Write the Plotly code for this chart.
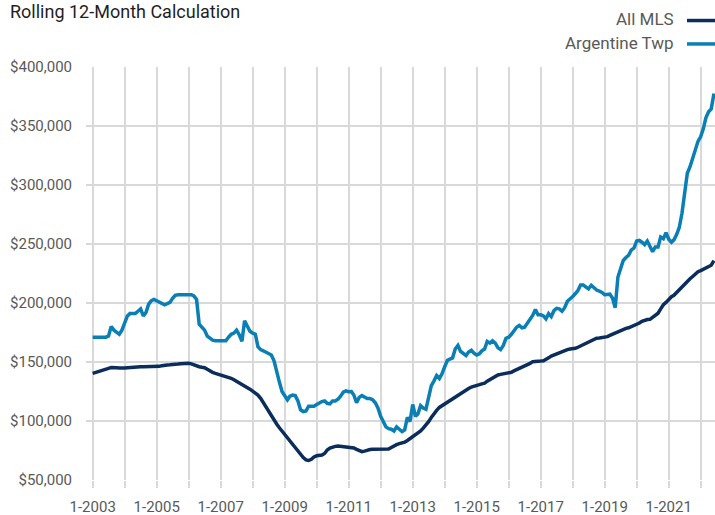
import pandas as pd
import plotly.graph_objects as go

# Monthly values, Jan 2003 .. Jun 2022
argentine_by_year = {
    2003: [171000, 171000, 171000, 171000, 171000, 171000, 172000, 180000, 177000, 175000, 173500, 177000],
    2004: [184000, 189000, 191000, 191000, 191000, 193000, 195000, 189000, 192000, 199000, 202000, 203000],
    2005: [202000, 201000, 199500, 198500, 199500, 200500, 204000, 206500, 207000, 207000, 207000, 207000],
    2006: [207000, 207000, 206000, 203000, 182000, 179000, 177000, 172000, 170000, 168500, 168000, 168000],
    2007: [168000, 168000, 168000, 171000, 173500, 174500, 177000, 173000, 167500, 185000, 181000, 176000],
    2008: [174500, 173500, 163000, 160500, 159500, 158500, 157000, 156000, 151000, 141000, 133000, 125000],
    2009: [121000, 118000, 121000, 122000, 121500, 117000, 109500, 108000, 108500, 112500, 112500, 112500],
    2010: [114000, 115500, 116500, 117000, 115000, 114500, 117000, 117000, 118500, 121000, 124500, 125500],
    2011: [124800, 125000, 122000, 115500, 120000, 121500, 120500, 119000, 119000, 118000, 115500, 111000],
    2012: [104000, 99000, 95000, 93500, 93000, 91500, 95000, 93000, 91000, 92500, 103000, 99500],
    2013: [114000, 104000, 106000, 113000, 111000, 110000, 121000, 130000, 134000, 138500, 136000, 140000],
    2014: [146000, 151500, 152500, 153500, 161000, 164000, 159000, 157000, 155500, 158500, 160000, 157500],
    2015: [156000, 157000, 159500, 161000, 167500, 166000, 168000, 166000, 162000, 160500, 164000, 170000],
    2016: [171000, 173500, 176500, 179500, 181000, 179000, 179500, 183000, 186000, 189500, 194500, 190000],
    2017: [190000, 189000, 186500, 191000, 188500, 193500, 195500, 195000, 193000, 196000, 201500, 204000],
    2018: [205500, 208000, 210500, 215300, 215300, 213500, 212000, 215000, 213000, 211000, 210000, 209000],
    2019: [207000, 207000, 207500, 204000, 196000, 222000, 229000, 236000, 238500, 240500, 245000, 246500],
    2020: [252500, 253000, 251500, 249500, 252500, 247500, 243500, 247500, 247500, 256000, 254500, 259500],
    2021: [254000, 251500, 253500, 258000, 264000, 276000, 292000, 310000, 315500, 323500, 331000, 337000],
    2022: [341000, 348000, 357000, 362000, 364500, 377500],
}

all_mls_by_year = {
    2003: [140400, 141000, 141600, 142300, 143000, 143800, 144600, 145300, 145500, 145200, 144900, 144700],
    2004: [145000, 145200, 145500, 145800, 146000, 145900, 146000, 146000, 146000, 146000, 146100, 146000],
    2005: [146100, 146300, 146900, 147400, 147500, 147600, 147600, 148000, 148300, 148600, 148900, 148900],
    2006: [148900, 148400, 147500, 146700, 146000, 145500, 145200, 143800, 142300, 141200, 140400, 139800],
    2007: [139000, 138400, 137700, 137000, 136200, 135000, 133800, 132400, 131000, 129900, 128600, 127000],
    2008: [125300, 124000, 122000, 119200, 115500, 112000, 108500, 104500, 100900, 97500, 94300, 91500],
    2009: [88000, 85300, 82500, 79500, 76500, 73500, 71200, 69000, 67000, 66500, 67500, 69500],
    2010: [70500, 71000, 71200, 72500, 75400, 77000, 78000, 78500, 78800, 78500, 78200, 78200],
    2011: [78000, 77700, 77200, 76000, 75000, 74000, 74500, 75400, 75800, 76000, 76000, 76000],
    2012: [76000, 76000, 76000, 76200, 77500, 79000, 80000, 80800, 81200, 82000, 83500, 85000],
    2013: [86200, 87800, 89600, 91500, 94000, 96600, 99500, 103000, 106500, 109000, 111500, 113000],
    2014: [114300, 115800, 117200, 119200, 120500, 122000, 123300, 124800, 126000, 127500, 128800, 129700],
    2015: [130300, 130800, 131500, 132000, 133800, 135300, 136500, 137800, 139000, 139500, 140000, 140400],
    2016: [140400, 141300, 142500, 143500, 144600, 145500, 146300, 147500, 148800, 150300, 150700, 150800],
    2017: [150800, 151100, 152000, 153500, 155000, 156000, 156500, 157500, 159000, 160200, 160500, 161000],
    2018: [161200, 161600, 162500, 163600, 165000, 165900, 166500, 167800, 169000, 170100, 170300, 170600],
    2019: [170900, 171500, 172500, 173600, 174800, 176000, 177000, 178000, 178500, 179000, 180000, 180900],
    2020: [181400, 183000, 184500, 185600, 186000, 186200, 188000, 190000, 191300, 195000, 198500, 200500],
    2021: [203000, 205300, 206500, 209000, 211500, 213500, 216000, 218500, 220500, 222500, 224500, 226500],
    2022: [227500, 228500, 230000, 231000, 232000, 236000],
}

tick_years = list(range(2003, 2023))
tick_labels = [f"1-{y}" if (y - 2003) % 2 == 0 else "" for y in tick_years]
series_names = ["All MLS", "Argentine Twp"]
series_colors = ["#0b2d5c", "#0a7fb5"]

argentine = [v for y in sorted(argentine_by_year) for v in argentine_by_year[y]]
all_mls = [v for y in sorted(all_mls_by_year) for v in all_mls_by_year[y]]
dates = pd.date_range("2003-01-01", periods=len(argentine), freq="MS")

FONT = "Roboto, Arial, sans-serif"

fig = go.Figure()
fig.add_trace(go.Scatter(x=dates, y=argentine, mode="lines", name=series_names[1],
                         line=dict(color=series_colors[1], width=3.5)))
fig.add_trace(go.Scatter(x=dates, y=all_mls, mode="lines", name=series_names[0],
                         line=dict(color=series_colors[0], width=3.5)))

fig.update_layout(
    width=715, height=515,
    margin=dict(l=86, r=0, t=67, b=35),
    paper_bgcolor="white", plot_bgcolor="white",
    showlegend=False,
    font=dict(family=FONT, color="#595959", size=15),
)

fig.update_xaxes(
    range=["2002-10-17", "2022-06-13"],
    tickvals=[pd.Timestamp(f"{y}-01-01") for y in tick_years],
    ticktext=tick_labels,
    showgrid=True, gridcolor="#d9d9d9", gridwidth=1.5,
    ticks="outside", ticklen=7, tickcolor="#d9d9d9", tickwidth=1.5,
    ticklabelstandoff=6,
    showline=False, zeroline=False, automargin=False,
    tickfont=dict(size=15, color="#595959"),
)
fig.update_yaxes(
    range=[50000, 400000], dtick=50000, tickformat="$,.0f",
    showgrid=True, gridcolor="#d9d9d9", gridwidth=1.5,
    ticks="outside", ticklen=10, tickcolor="rgba(0,0,0,0)",
    showline=False, zeroline=False, automargin=False,
    tickfont=dict(size=15, color="#595959"),
)

# Title
fig.add_annotation(text="Rolling 12-Month Calculation", xref="paper", yref="paper",
                   x=-0.124, y=1.135, xanchor="left", yanchor="middle", showarrow=False,
                   font=dict(size=18, color="#1f1f1f", family=FONT))

# Legend (text left of line sample)
leg_y = [1.1155, 1.0588]
for name, color, yy in zip(series_names, series_colors, leg_y):
    fig.add_annotation(text=name, xref="paper", yref="paper", x=0.938, y=yy,
                       xanchor="right", yanchor="middle", showarrow=False,
                       font=dict(size=17, color="#595959", family=FONT))
    fig.add_shape(type="line", xref="paper", yref="paper", x0=0.9555, x1=1.0,
                  y0=yy - 0.003, y1=yy - 0.003, line=dict(color=color, width=3.5))

fig.write_html("out.html", config={"displayModeBar": False},
               post_script="document.body.style.margin='0';document.body.style.overflow='hidden';")
